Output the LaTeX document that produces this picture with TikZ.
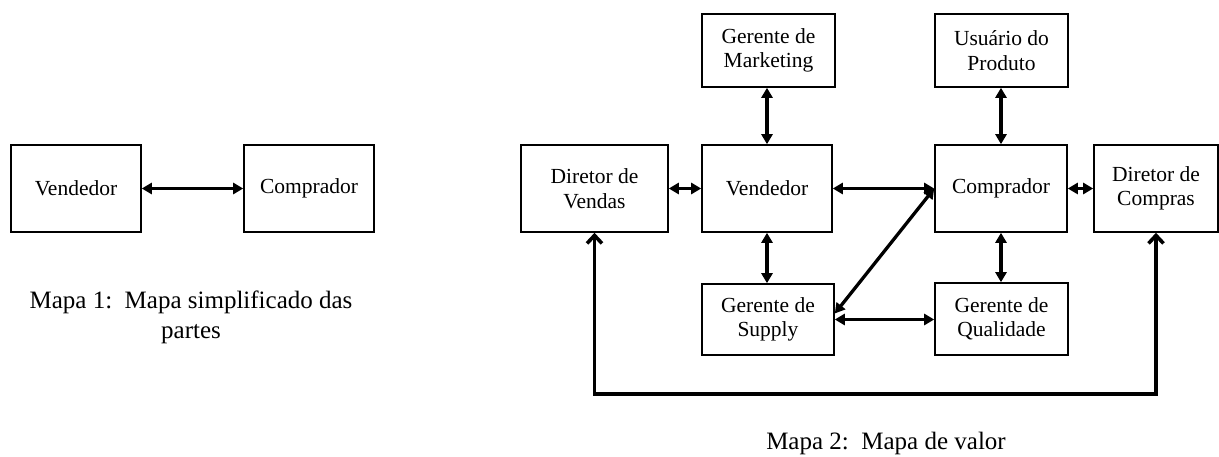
\documentclass[tikz,border=0pt]{standalone}
\usepackage{fontspec}
\setmainfont{Liberation Serif}
\usetikzlibrary{arrows.meta}
\begin{document}
\begin{tikzpicture}[x=1pt,y=-1pt,
  box/.style={draw,line width=1.6pt,inner sep=0pt,align=center,
    font=\fontsize{21.5}{24.5}\selectfont},
  link/.style={line width=3.3pt,{Triangle[length=10pt,width=11pt]}-{Triangle[length=10pt,width=11pt]}},
  loopline/.style={line width=3.6pt,line join=miter,
    {Straight Barb[length=8pt,width=15pt]}-{Straight Barb[length=8pt,width=15pt]}},
  caption/.style={inner sep=0pt,align=center,font=\fontsize{25}{30}\selectfont}]
\useasboundingbox (0,0) rectangle (1219,457);

% simplified map
\node[box,minimum width=130pt,minimum height=87pt] (v1) at (76,188.5) {Vendedor};
\node[box,minimum width=130pt,minimum height=87pt] (c1) at (309,188.5) {Comprador};
\draw[link] (v1.east) -- (c1.west);
\node[caption,anchor=north] (cap1) at (191,291) {Mapa 1:\ \ Mapa simplificado das\\partes};

% value map
\node[box,minimum width=147pt,minimum height=87pt] (dv) at (594.5,188.5) {Diretor de\\Vendas};
\node[box,minimum width=130pt,minimum height=87pt] (vend) at (767,188.5) {Vendedor};
\node[box,minimum width=133pt,minimum height=73pt] (mkt) at (768.5,50.5) {Gerente de\\Marketing};
\node[box,minimum width=133pt,minimum height=73pt] (usu) at (1001.5,50.5) {Usuário do\\Produto};
\node[box,minimum width=132pt,minimum height=87pt] (comp) at (1001,188.5) {Comprador};
\node[box,minimum width=124pt,minimum height=87pt] (dc) at (1156,188.5) {Diretor de\\Compras};
\node[box,minimum width=132pt,minimum height=71pt] (sup) at (768,319.5) {Gerente de\\Supply};
\node[box,minimum width=133pt,minimum height=72pt] (qual) at (1001.5,319) {Gerente de\\Qualidade};

\draw[link] (dv.east) -- (vend.west);
\draw[link] (vend.north |- mkt.south) -- (vend.north);
\draw[link] (vend.south) -- (vend.south |- sup.north);
\draw[link] (vend.east) -- (comp.west);
\draw[link] ([yshift=6pt]sup.east) -- (comp.west);
\draw[link] (sup.east) -- (sup.east -| qual.west);
\draw[link] (comp.north |- usu.south) -- (comp.north);
\draw[link] (comp.south) -- (comp.south |- qual.north);
\draw[link] (comp.east) -- (dc.west);

\coordinate (loopy) at (0,394);
\draw[loopline] (dv.south) -- (dv.south |- loopy) -- (dc.south |- loopy) -- (dc.south);

\node[caption,anchor=base] (cap2) at (886,449) {Mapa 2:\ \ Mapa de valor};
\end{tikzpicture}
\end{document}
